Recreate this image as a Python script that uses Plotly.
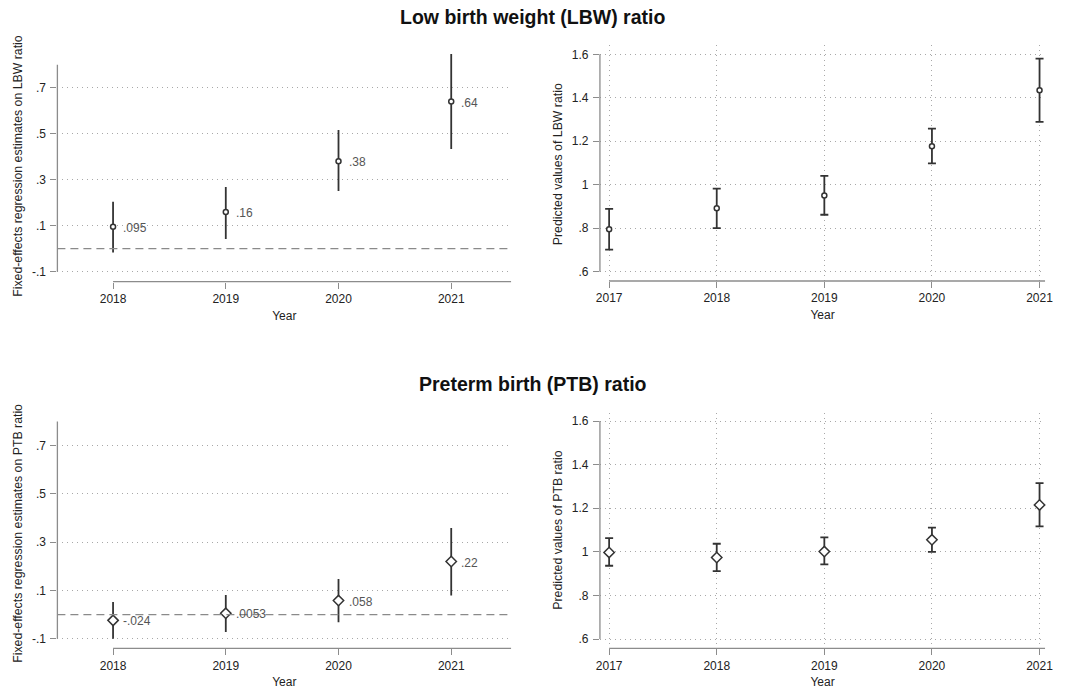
import plotly.graph_objects as go

# ---------------- data ----------------
years_fe = [2018, 2019, 2020, 2021]
years_pred = [2017, 2018, 2019, 2020, 2021]

lbw_fe = [0.095, 0.16, 0.38, 0.64]
lbw_fe_lo = [-0.016, 0.042, 0.251, 0.433]
lbw_fe_hi = [0.204, 0.268, 0.516, 0.847]
lbw_fe_labels = [".095", ".16", ".38", ".64"]

lbw_pred = [0.795, 0.892, 0.951, 1.177, 1.435]
lbw_pred_lo = [0.702, 0.800, 0.862, 1.098, 1.289]
lbw_pred_hi = [0.889, 0.982, 1.041, 1.258, 1.580]

ptb_fe = [-0.024, 0.0053, 0.058, 0.22]
ptb_fe_lo = [-0.100, -0.072, -0.032, 0.079]
ptb_fe_hi = [0.052, 0.081, 0.147, 0.359]
ptb_fe_labels = ["-.024", ".0053", ".058", ".22"]

ptb_pred = [0.997, 0.974, 1.001, 1.055, 1.215]
ptb_pred_lo = [0.936, 0.911, 0.942, 1.000, 1.117]
ptb_pred_hi = [1.063, 1.037, 1.066, 1.111, 1.315]

fe_ticks = [-0.1, 0.1, 0.3, 0.5, 0.7]
fe_ticktext = ["-.1", ".1", ".3", ".5", ".7"]
fe_axis_limits = [-0.1, 0.8]
pred_ticks = [0.6, 0.8, 1.0, 1.2, 1.4, 1.6]
pred_ticktext = [".6", ".8", "1", "1.2", "1.4", "1.6"]
pred_axis_limits = [0.6, 1.6]

titles = ["Low birth weight (LBW) ratio", "Preterm birth (PTB) ratio"]
ytitle_fe = ["Fixed-effects regression estimates on LBW ratio",
             "Fixed-effects regression estimates on PTB ratio"]
ytitle_pred = ["Predicted values of LBW ratio", "Predicted values of PTB ratio"]
xtitle = "Year"

# ---------------- layout helpers ----------------
W, H = 1069, 689
FONT = "Liberation Sans, Arial, Helvetica, sans-serif"
DARK = "#333333"
AXC = "#8c8c8c"
GRID = "#a8a8a8"
GRID_DASH = "1px,4px"


def lin(p, va, pa, vb, pb):
    return va + (p - pa) * (vb - va) / (pb - pa)


def fx(p):
    return p / W


def fy(p):
    return 1 - p / H


# pixel geometry of the four panels (ytitle_px = x position of the y-axis title)
panels = [
    dict(n="", xpx=(54, 513), ypx=(281.7, 50), xa=(2018, 110.3, 2021, 452.3), ya=(0.7, 87.7, -0.1, 271.7), yt_px=14, yt_cy=166),
    dict(n="2", xpx=(602.7, 1053), ypx=(281, 45), xa=(2017, 612, 2021, 1047.3), ya=(1.6, 54.3, 0.6, 271.7), yt_px=560, yt_cy=164.5),
    dict(n="3", xpx=(54, 513), ypx=(648.3, 418), xa=(2018, 110.3, 2021, 452.3), ya=(0.7, 445.7, -0.1, 638.7), yt_px=14, yt_cy=533),
    dict(n="4", xpx=(602.7, 1053), ypx=(648.3, 413), xa=(2017, 612, 2021, 1047.3), ya=(1.6, 421, 0.6, 639), yt_px=560, yt_cy=530),
]

fig = go.Figure()
shapes = []
annotations = []

series = [
    (years_fe, lbw_fe, lbw_fe_lo, lbw_fe_hi, lbw_fe_labels, "circle", 0),
    (years_pred, lbw_pred, lbw_pred_lo, lbw_pred_hi, None, "circle", 1),
    (years_fe, ptb_fe, ptb_fe_lo, ptb_fe_hi, ptb_fe_labels, "diamond", 2),
    (years_pred, ptb_pred, ptb_pred_lo, ptb_pred_hi, None, "diamond", 3),
]

for xs, ys, lo, hi, labels, sym, i in series:
    n = panels[i]["n"]
    is_pred = labels is None
    fig.add_trace(go.Scatter(
        x=xs, y=ys,
        mode="markers",
        marker=dict(symbol=sym, size=5 if sym == "circle" else 8, color="white",
                    line=dict(color=DARK, width=1.5)),
        error_y=dict(type="data", symmetric=False,
                     array=[h - y for h, y in zip(hi, ys)],
                     arrayminus=[y - l for y, l in zip(ys, lo)],
                     color=DARK, thickness=1.8, width=4 if is_pred else 0),
        xaxis="x" + n, yaxis="y" + n, showlegend=False, cliponaxis=False,
    ))
    if labels:
        for xv, yv, lab in zip(xs, ys, labels):
            annotations.append(dict(
                text=lab, x=xv, y=yv, xref="x" + n, yref="y" + n,
                xanchor="left", yanchor="middle", xshift=8, yshift=-1, showarrow=False,
                font=dict(family=FONT, size=12, color="#555555")))

layout = dict(width=W, height=H, margin=dict(l=0, r=0, t=0, b=0),
              paper_bgcolor="white", plot_bgcolor="white",
              font=dict(family=FONT, size=12, color="#222222"), showlegend=False)

for i, p in enumerate(panels):
    n = p["n"]
    is_pred = i in (1, 3)
    row = i // 2
    x0, x1 = p["xpx"]
    yb, yt = p["ypx"]
    xr = [lin(x0, p["xa"][0], p["xa"][1], p["xa"][2], p["xa"][3]),
          lin(x1, p["xa"][0], p["xa"][1], p["xa"][2], p["xa"][3])]
    yr = [lin(yb, p["ya"][0], p["ya"][1], p["ya"][2], p["ya"][3]),
          lin(yt, p["ya"][0], p["ya"][1], p["ya"][2], p["ya"][3])]
    xs = years_pred if is_pred else years_fe
    layout["xaxis" + n] = dict(
        domain=[fx(x0), fx(x1)], range=xr, anchor="y" + n,
        tickvals=xs, ticktext=[str(v) for v in xs],
        ticks="outside", ticklen=6, tickcolor=AXC, tickwidth=1,
        showline=False, zeroline=False,
        showgrid=is_pred, gridcolor=GRID, griddash=GRID_DASH, gridwidth=1,
        tickfont=dict(size=12, color="#222222"),
        title=dict(text=xtitle, font=dict(size=12, color="#222222"), standoff=6),
    )
    layout["yaxis" + n] = dict(
        domain=[fy(yb), fy(yt)], range=yr, anchor="x" + n,
        tickvals=pred_ticks if is_pred else fe_ticks,
        ticktext=pred_ticktext if is_pred else fe_ticktext,
        ticks="outside", ticklen=6, tickcolor=AXC, tickwidth=1,
        ticklabelstandoff=2,
        showline=False, zeroline=False,
        showgrid=True, gridcolor=GRID, griddash=GRID_DASH, gridwidth=1,
        tickfont=dict(size=12, color="#222222"),
    )
    annotations.append(dict(
        text=(ytitle_pred if is_pred else ytitle_fe)[row],
        x=fx(p["yt_px"]), y=fy(p["yt_cy"]), xref="paper", yref="paper",
        textangle=-90, xanchor="center", yanchor="middle", showarrow=False,
        font=dict(family=FONT, size=12.3, color="#222222")))
    lim = pred_axis_limits if is_pred else fe_axis_limits
    # y axis line
    shapes.append(dict(type="line", xref="x" + n + " domain", yref="y" + n,
                       x0=0, x1=0, y0=lim[0], y1=lim[1],
                       line=dict(color=AXC, width=1.3)))
    # x axis line
    shapes.append(dict(type="line", xref="x" + n, yref="y" + n + " domain",
                       x0=xs[0], x1=xr[1], y0=0, y1=0,
                       line=dict(color=AXC, width=1.3)))
    if not is_pred:
        shapes.append(dict(type="line", xref="x" + n + " domain", yref="y" + n,
                           x0=0, x1=1, y0=0, y1=0,
                           line=dict(color="#8a8a8a", width=1.3, dash="8px,5px")))

annotations += [
    dict(text="<b>" + titles[0] + "</b>", x=0.5, y=fy(17), xref="paper", yref="paper",
         showarrow=False, font=dict(size=19.5, color="#111111"), xanchor="center", yanchor="middle"),
    dict(text="<b>" + titles[1] + "</b>", x=0.5, y=fy(384), xref="paper", yref="paper",
         showarrow=False, font=dict(size=19.5, color="#111111"), xanchor="center", yanchor="middle"),
]
layout["shapes"] = shapes
layout["annotations"] = annotations

fig.update_layout(**layout)
fig.write_html("out.html")
